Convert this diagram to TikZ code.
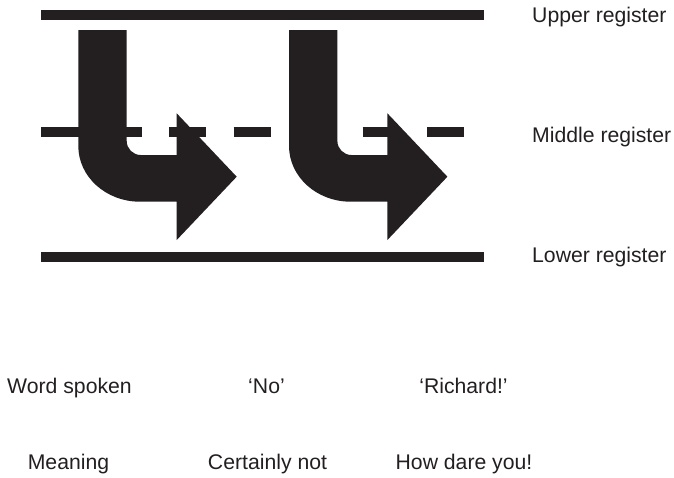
\documentclass[tikz,border=0pt]{standalone}
\usepackage{fontspec}
\setmainfont{Liberation Sans}
\definecolor{ink}{HTML}{231F20}
\tikzset{
  regline/.style={line width=10pt, draw=ink},
  bentarrow/.style={fill=ink, draw=none},
  lbl/.style={inner sep=0pt, text=ink, font=\fontsize{21.2}{25}\selectfont},
}
\begin{document}
\begin{tikzpicture}[x=1pt,y=-1pt]
\useasboundingbox (0,0) rectangle (674,477);
% register lines
\draw[regline] (41,15) -- (484,15);
\draw[regline] (41,257) -- (484,257);
% dashed middle line
\foreach \a/\b in {41/142, 169/206, 233.5/270.5, 298/335, 362.5/399.5, 427/464}
  \draw[regline] (\a,132) -- (\b,132);
% bent arrows
\foreach \s in {0, 210.7}
  \fill[bentarrow, xshift=\s] (78.3,30) -- (126.7,30) -- (126.7,141)
    .. controls (126.7,148.7) and (133,155) .. (140.7,155)
    -- (176.7,155) -- (176.7,113.3) -- (236.7,176.7) -- (176.7,240)
    -- (176.7,201.7) -- (140,201.7)
    .. controls (105.9,201.7) and (78.3,176.7) .. (78.3,146) -- cycle;
% register labels
\node[lbl, anchor=base west] (up) at (532,22) {Upper register};
\node[lbl, anchor=base west] (mid) at (532,142) {Middle register};
\node[lbl, anchor=base west] (low) at (532,262) {Lower register};
% table rows
\node[lbl, anchor=base] (ws) at (69.5,393) {Word spoken};
\node[lbl, anchor=base] (no) at (266.5,393) {‘No’};
\node[lbl, anchor=base] (ri) at (463.5,393) {‘Richard!’};
\node[lbl, anchor=base] (me) at (68.5,469) {Meaning};
\node[lbl, anchor=base] (cn) at (267.5,469) {Certainly not};
\node[lbl, anchor=base] (hd) at (464,469) {How dare you!};
\end{tikzpicture}
\end{document}
